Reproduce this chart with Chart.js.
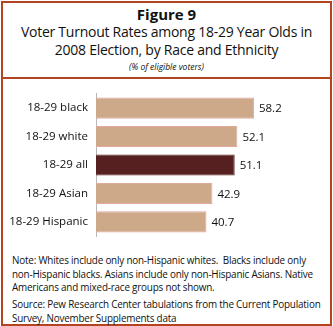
<!DOCTYPE html>
<html>
<head>
<meta charset="utf-8">
<script src="https://cdn.jsdelivr.net/npm/chart.js@4"></script>
<style>
  body { margin: 0; background: #fff; font-family: "Open Sans", sans-serif; }
  #frame { position: absolute; left: 1px; top: 1px; width: 327px; height: 321px; border: 2px solid #b3441f; }
  #sep { position: absolute; left: 0; top: 74px; width: 327px; height: 2px; background: #b3441f; }
  #head { position: absolute; left: 0; top: 2px; width: 327px; text-align: center; color: #111; }
  .t1 { font-weight: bold; font-size: 15px; line-height: 18px; }
  .t2 { font-size: 14px; line-height: 18px; letter-spacing: -0.25px; }
  .t3 { font-style: italic; font-size: 8.5px; line-height: 15px; }
  #wrap { position: absolute; left: 3px; top: 79px; width: 325px; height: 172px; }
  #notes { position: absolute; left: 12px; top: 254px; width: 306px; font-size: 9.9px; color: #111; letter-spacing: -0.2px; }
</style>
</head>
<body>
<div id="frame"><div id="sep"></div>
  <div id="head">
    <div class="t1">Figure 9</div>
    <div class="t2">Voter Turnout Rates among 18-29 Year Olds in</div>
    <div class="t2">2008 Election, by Race and Ethnicity</div>
    <div class="t3">(% of eligible voters)</div>
  </div>
</div>
<div id="wrap"><canvas id="c"></canvas></div>
<div id="notes">
  <div style="line-height:13.5px">Note: Whites include only non-Hispanic whites.&nbsp; Blacks include only <span style="white-space:nowrap">non-Hispanic</span> blacks. Asians include only <span style="white-space:nowrap">non-Hispanic</span> Asians. Native Americans and mixed-race groups not shown.</div>
  <div style="margin-top:2px;line-height:14px;white-space:nowrap">Source: Pew Research Center tabulations from the Current Population<br>Survey, November Supplements data</div>
</div>
<script>
const groups = ['18-29 black', '18-29 white', '18-29 all', '18-29 Asian', '18-29 Hispanic'];
const turnout = [58.2, 52.1, 51.1, 42.9, 40.7];

const valueLabels = {
  id: 'valueLabels',
  afterDatasetsDraw(chart) {
    const ctx = chart.ctx;
    ctx.save();
    ctx.font = '11.5px "Open Sans"';
    ctx.fillStyle = '#111';
    ctx.textBaseline = 'middle';
    chart.getDatasetMeta(0).data.forEach((bar, i) => {
      ctx.fillText(turnout[i].toFixed(1), bar.x + 5, bar.y + 1);
    });
    ctx.restore();
  }
};

new Chart(document.getElementById('c'), {
  type: 'bar',
  data: {
    labels: groups,
    datasets: [{
      data: turnout,
      backgroundColor: groups.map(g => g === '18-29 all' ? '#55201f' : '#cda98a'),
      borderColor: groups.map(g => g === '18-29 all' ? '#55201f' : '#e2aa9c'),
      borderWidth: 1,
      barPercentage: 0.74,
      categoryPercentage: 1
    }]
  },
  options: {
    indexAxis: 'y',
    responsive: true,
    maintainAspectRatio: false,
    animation: false,
    layout: { padding: { top: 6, bottom: 4, right: 42, left: 0 } },
    plugins: { legend: { display: false }, tooltip: { enabled: false } },
    scales: {
      x: { display: false, min: 0, max: 70 },
      y: {
        grid: { display: false, drawTicks: false },
        border: { display: true, color: '#b8b8b8', width: 1 },
        ticks: { color: '#111', font: { family: 'Open Sans', size: 11.5 }, padding: 8 },
        afterFit(scale) { scale.width = 93; }
      }
    }
  },
  plugins: [valueLabels]
});
</script>
</body>
</html>
